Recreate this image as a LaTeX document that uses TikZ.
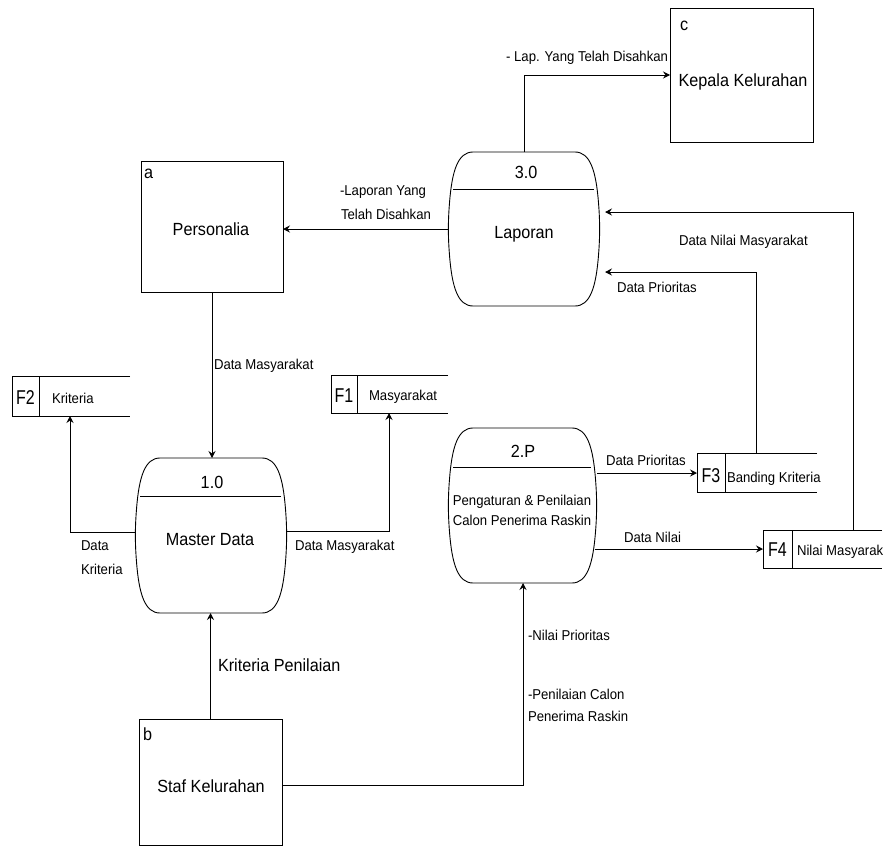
\documentclass[tikz,border=0pt]{standalone}
\usepackage{fontspec}
\setmainfont[FakeStretch=0.92]{Liberation Sans}
\newfontfamily\storefont[FakeStretch=0.8]{Liberation Sans}
\usetikzlibrary{arrows.meta,calc}
\newcommand\drawproc[5]{% x0 y0 x1 y1 ydiv
  \draw[ln] ({#1+25},#2) -- ({#3-25},#2)
   .. controls ({#3-10},#2) and ({#3-4},{#2+0.12*(#4-#2)}) .. ({#3-1.5},{#2+0.33*(#4-#2)})
   .. controls ({#3},{#2+0.45*(#4-#2)}) and ({#3},{#2+0.55*(#4-#2)}) .. ({#3-1.5},{#2+0.67*(#4-#2)})
   .. controls ({#3-4},{#4-0.12*(#4-#2)}) and ({#3-10},#4) .. ({#3-25},#4)
   -- ({#1+25},#4)
   .. controls ({#1+10},#4) and ({#1+4},{#4-0.12*(#4-#2)}) .. ({#1+1.5},{#2+0.67*(#4-#2)})
   .. controls ({#1},{#2+0.55*(#4-#2)}) and ({#1},{#2+0.45*(#4-#2)}) .. ({#1+1.5},{#2+0.33*(#4-#2)})
   .. controls ({#1+4},{#2+0.12*(#4-#2)}) and ({#1+10},#2) .. ({#1+25},#2) -- cycle;
  \draw[ln] ({#1+5},#5) -- ({#3-6},#5);
}
\newcommand\drawstore[5]{% x0 y0 x1 y1 xdiv
  \draw[ln] (#3,#2) -- (#1,#2) -- (#1,#4) -- (#3,#4);
  \draw[ln] (#5,#2) -- (#5,#4);
}
\begin{document}
\begin{tikzpicture}[x=1pt,y=-1pt,
  every node/.style={inner sep=0pt,outer sep=0pt},
  ln/.style={line width=0.9pt},
  lbl/.style={font=\fontsize{14.3}{16}\selectfont},
  big/.style={font=\fontsize{17.6}{20}\selectfont},
  fl/.style={font=\storefont\fontsize{20}{22}\selectfont},
  flw/.style={ln, -{Stealth[length=7pt,width=7pt,inset=2.5pt]}},
  ent/.style={draw, line width=0.9pt},
  area/.style={draw=none}
]
\useasboundingbox (0,0) rectangle (883,846);

% external entities
\node[ent, minimum width=143pt, minimum height=134pt] (kep) at (741.5,75) {};
\node[ent, minimum width=142pt, minimum height=131pt] (pers) at (212,226.5) {};
\node[ent, minimum width=143pt, minimum height=126pt] (staf) at (210.5,782) {};
\node[big, anchor=base west] (kepc) at (680,30) {c};
\node[big, anchor=base] (kept) at (743,86) {Kepala Kelurahan};
\node[big, anchor=base west] (persa) at (144,178) {a};
\node[big, anchor=base] (perst) at (211,235) {Personalia};
\node[big, anchor=base west] (stafb) at (143,740) {b};
\node[big, anchor=base] (staft) at (211,792) {Staf Kelurahan};

% processes
\node[area, minimum width=152pt, minimum height=154pt] (lap) at (524,229) {};
\drawproc{448}{152}{600}{306}{189}
\node[big, anchor=base] (lapn) at (526,178) {3.0};
\node[big, anchor=base] (lapt) at (524,238) {Laporan};

\node[area, minimum width=152pt, minimum height=155pt] (mas) at (211,535.5) {};
\drawproc{135}{458}{287}{613}{496}
\node[big, anchor=base] (masn) at (212,488) {1.0};
\node[big, anchor=base] (mast) at (210,545) {Master Data};

\node[area, minimum width=149pt, minimum height=155pt] (peng) at (522.5,505.5) {};
\drawproc{448}{428}{597}{583}{467}
\node[big, anchor=base] (pengn) at (523,457) {2.P};
\node[lbl, anchor=base] (pengt1) at (522,505) {Pengaturan \& Penilaian};
\node[lbl, anchor=base] (pengt2) at (522,525) {Calon Penerima Raskin};

% data stores
\node[area, minimum width=118pt, minimum height=40pt] (f2) at (71,396) {};
\drawstore{12}{376}{130}{416}{39}
\node[fl, anchor=base] (f2n) at (25.5,404) {F2};
\node[lbl, anchor=base west] (f2t) at (52,403) {Kriteria};

\node[area, minimum width=117pt, minimum height=38pt] (f1) at (389.5,394) {};
\drawstore{331}{375}{448}{413}{357}
\node[fl, anchor=base] (f1n) at (344,402) {F1};
\node[lbl, anchor=base west] (f1t) at (369,400) {Masyarakat};

\node[area, minimum width=120pt, minimum height=39pt] (f3) at (757,472.5) {};
\drawstore{697}{453}{817}{492}{725}
\node[fl, anchor=base] (f3n) at (711,482) {F3};
\node[lbl, anchor=base west] (f3t) at (727,482) {Banding Kriteria};

\node[area, minimum width=119pt, minimum height=38pt] (f4) at (822.5,549) {};
\drawstore{763}{530}{882}{568}{792}
\node[fl, anchor=base] (f4n) at (777.5,556) {F4};
\node[lbl, anchor=base west] (f4t) at (797,555) {Nilai Masyarak};

% bend coordinates
\coordinate (k1) at (389,531);
\coordinate (k2) at (70,532);
\coordinate (k3) at (523,785);
\coordinate (k4) at (597,473);
\coordinate (k5) at (595,549);
\coordinate (k6) at (756,272);
\coordinate (k8) at (853,212);

% flows
\draw[flw] (lap.north) |- (kep.west);
\draw[flw] (lap.west) -- (lap.west -| pers.east);
\draw[flw] (pers.south) -- (pers.south |- mas.north);
\draw[flw] (mas.west |- k2) -- (k2) -- (k2 |- f2.south);
\draw[flw] (mas.east |- k1) -- (k1) -- (k1 |- f1.south);
\draw[flw] (staf.north) -- (staf.north |- mas.south);
\draw[flw] (staf.east |- k3) -- (k3) -- (k3 |- peng.south);
\draw[flw] (k4) -- (k4 -| f3.west);
\draw[flw] (k5) -- (k5 -| f4.west);
\draw[flw, shorten >=5pt] (k6 |- f3.north) -- (k6) -- (lap.east |- k6);
\draw[flw, shorten >=5pt] (k8 |- f4.north) -- (k8) -- (lap.east |- k8);

% flow labels
\node[lbl, anchor=base east] (l1) at (668,61) {- Lap. Yang Telah Disahkan};
\node[lbl, anchor=base west] (l2a) at (340,195) {-Laporan Yang};
\node[lbl, anchor=base west] (l2b) at (341,219) {Telah Disahkan};
\node[lbl, anchor=base west] (l3) at (214,369) {Data Masyarakat};
\node[lbl, anchor=base west] (l4a) at (81,550) {Data};
\node[lbl, anchor=base west] (l4b) at (81,574) {Kriteria};
\node[lbl, anchor=base west] (l5) at (295,550) {Data Masyarakat};
\node[big, anchor=base west] (l6) at (218,671) {Kriteria Penilaian};
\node[lbl, anchor=base west] (l7a) at (528,640) {-Nilai Prioritas};
\node[lbl, anchor=base west] (l7b) at (528,699) {-Penilaian Calon};
\node[lbl, anchor=base west] (l7c) at (528,721) {Penerima Raskin};
\node[lbl, anchor=base west] (l8) at (606,465) {Data Prioritas};
\node[lbl, anchor=base west] (l9) at (624,542) {Data Nilai};
\node[lbl, anchor=base west] (l10) at (617,292) {Data Prioritas};
\node[lbl, anchor=base west] (l11) at (679,245) {Data Nilai Masyarakat};
\end{tikzpicture}
\end{document}
